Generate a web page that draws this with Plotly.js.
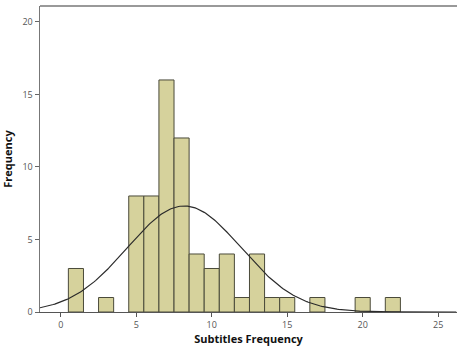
<!DOCTYPE html>
<html>
<head>
<meta charset="utf-8">
<script src="https://cdn.plot.ly/plotly-3.0.1.min.js"></script>
<style>html,body{margin:0;padding:0;background:#fff;}#chart{width:457px;height:347px;}</style>
</head>
<body>
<div id="chart"></div>
<script>
// Histogram bins (centre of each bin, width 1) and counts
const binCenters = [1, 3, 5, 6, 7, 8, 9, 10, 11, 12, 13, 14, 15, 17, 20, 22];
const counts     = [3, 1, 8, 8, 16, 12, 4, 3, 4, 1, 4, 1, 1, 1, 1, 1];
const xTicks = [0, 5, 10, 15, 20, 25];
const yTicks = [0, 5, 10, 15, 20];
const xTitle = "Subtitles Frequency";
const yTitle = "Frequency";

// Fitted normal curve from the histogram data (mean, sd, N)
const N = counts.reduce((a, b) => a + b, 0);
const mean = binCenters.reduce((s, x, i) => s + x * counts[i], 0) / N;
const sd = Math.sqrt(binCenters.reduce((s, x, i) => s + counts[i] * (x - mean) ** 2, 0) / (N - 1));
const curveX = [], curveY = [];
for (let x = -1.4; x <= 26.3; x += 0.1) {
  curveX.push(x);
  curveY.push(N / (sd * Math.sqrt(2 * Math.PI)) * Math.exp(-0.5 * ((x - mean) / sd) ** 2));
}

const traces = [
  {
    type: "bar", x: binCenters, y: counts, width: 1,
    marker: {color: "#d6d29c", line: {color: "#4a4a3a", width: 1}},
    hoverinfo: "x+y"
  },
  {
    type: "scatter", mode: "lines", x: curveX, y: curveY,
    line: {color: "#2b2b2b", width: 1.2}, hoverinfo: "skip"
  }
];

const layout = {
  width: 457, height: 347,
  margin: {l: 40, r: 0, t: 6, b: 35},
  paper_bgcolor: "#fff", plot_bgcolor: "#fff",
  showlegend: false,
  font: {family: "Open Sans, DejaVu Sans, sans-serif", color: "#555"},
  xaxis: {
    range: [-1.38, 26.25], tickvals: xTicks, ticktext: xTicks.map(String),
    showgrid: false, zeroline: false, showline: true, linecolor: "#555", linewidth: 1,
    ticks: "outside", ticklen: 4, tickcolor: "#555", tickfont: {size: 9, color: "#555"},
    title: {text: xTitle, font: {size: 11, color: "#111", family: "Open Sans, DejaVu Sans, sans-serif", weight: "bold"}, standoff: 4}
  },
  yaxis: {
    range: [0, 21.1], tickvals: yTicks, ticktext: yTicks.map(String),
    showgrid: false, zeroline: false, showline: true, linecolor: "#777", linewidth: 1.5,
    ticks: "outside", ticklen: 4, tickcolor: "#666", tickfont: {size: 9, color: "#555"},
    title: {text: yTitle, font: {size: 11, color: "#111", family: "Open Sans, DejaVu Sans, sans-serif", weight: "bold"}, standoff: 8}
  },
  shapes: [
    {type: "line", xref: "paper", yref: "paper", x0: 0, x1: 1, y0: 1, y1: 1, line: {color: "#999", width: 2}}
  ],
  bargap: 0
};

Plotly.newPlot("chart", traces, layout, {displayModeBar: false, staticPlot: true});
</script>
</body>
</html>
